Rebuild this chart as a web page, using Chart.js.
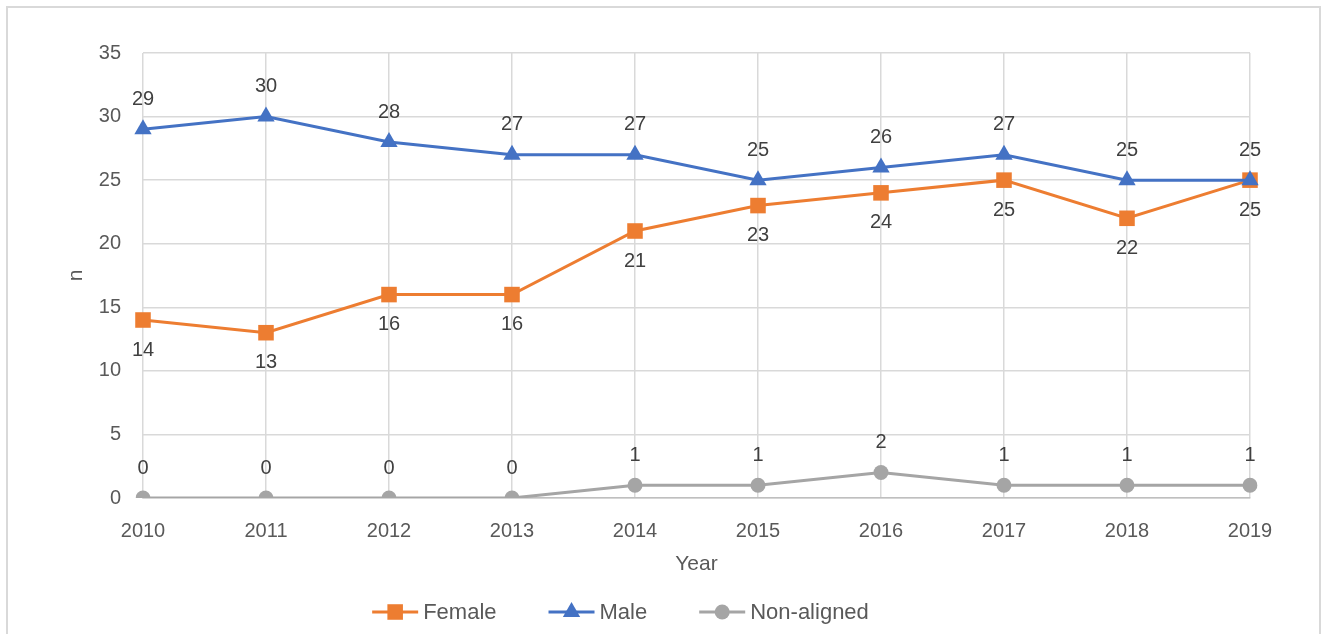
<!DOCTYPE html>
<html>
<head>
<meta charset="utf-8">
<script src="https://cdn.jsdelivr.net/npm/chart.js@4"></script>
<style>
    html, body { margin: 0; padding: 0; background: #fff; }
    #wrap { position: relative; width: 1325px; height: 634px; overflow: hidden; }
    #frame { position: absolute; left: 6px; top: 6px; width: 1315px; height: 700px; border: 2px solid #d9d9d9; box-sizing: border-box; pointer-events: none; }
    canvas { position: absolute; left: 0; top: 0; }
</style>
</head>
<body>
<div id="wrap">
    <canvas id="chart" width="1325" height="634"></canvas>
    <div id="frame"></div>
</div>
<script>
const years = ['2010', '2011', '2012', '2013', '2014', '2015', '2016', '2017', '2018', '2019'];
const female = [14, 13, 16, 16, 21, 23, 24, 25, 22, 25];
const male = [29, 30, 28, 27, 27, 25, 26, 27, 25, 25];
const nonAligned = [0, 0, 0, 0, 1, 1, 2, 1, 1, 1];
const yMin = 0;
const yMax = 35;
const yStep = 5;

const FONT = '"Liberation Sans", Arial, sans-serif';

// value labels above / below each point
const valueLabels = {
    id: 'valueLabels',
    afterDatasetsDraw(chart) {
        const ctx = chart.ctx;
        ctx.save();
        ctx.font = '20px ' + FONT;
        ctx.fillStyle = '#404040';
        ctx.textAlign = 'center';
        chart.data.datasets.forEach((ds, i) => {
            const meta = chart.getDatasetMeta(i);
            meta.data.forEach((pt, j) => {
                if (ds.labelPos === 'below') {
                    ctx.textBaseline = 'top';
                    ctx.fillText(ds.data[j], pt.x, pt.y + 20);
                } else {
                    ctx.textBaseline = 'bottom';
                    ctx.fillText(ds.data[j], pt.x, pt.y - 20);
                }
            });
        });
        ctx.restore();
    }
};

// excel style legend: line with marker in the middle
const lineLegend = {
    id: 'lineLegend',
    afterDraw(chart) {
        const ctx = chart.ctx;
        const lineLen = 46, textGap = 5, itemGap = 52;
        const y = 612;
        ctx.save();
        ctx.font = '22px ' + FONT;
        const items = chart.data.datasets.map(ds => ({ ds, w: ctx.measureText(ds.label).width }));
        let total = 0;
        items.forEach((it, i) => { total += lineLen + textGap + it.w + (i ? itemGap : 0); });
        let x = chart.width / 2 - 42 - total / 2;
        items.forEach(it => {
            const ds = it.ds;
            ctx.strokeStyle = ds.borderColor;
            ctx.lineWidth = 3;
            ctx.beginPath();
            ctx.moveTo(x, y);
            ctx.lineTo(x + lineLen, y);
            ctx.stroke();
            ctx.fillStyle = ds.backgroundColor;
            Chart.helpers.drawPoint(ctx, { pointStyle: ds.pointStyle, radius: ds.pointRadius, rotation: 0, borderWidth: 0 }, x + lineLen / 2, y);
            ctx.fillStyle = '#595959';
            ctx.textAlign = 'left';
            ctx.textBaseline = 'middle';
            ctx.fillText(ds.label, x + lineLen + textGap, y + 1);
            x += lineLen + textGap + it.w + itemGap;
        });
        ctx.restore();
    }
};

new Chart(document.getElementById('chart'), {
    type: 'line',
    data: {
        labels: years,
        datasets: [
            {
                label: 'Female', data: female, order: 2, labelPos: 'below',
                borderColor: '#ED7D31', backgroundColor: '#ED7D31', borderWidth: 3,
                pointStyle: 'rect', pointRadius: 11, pointBorderWidth: 0
            },
            {
                label: 'Male', data: male, order: 1, labelPos: 'above',
                borderColor: '#4472C4', backgroundColor: '#4472C4', borderWidth: 3,
                pointStyle: 'triangle', pointRadius: 10, pointBorderWidth: 0
            },
            {
                label: 'Non-aligned', data: nonAligned, order: 0, labelPos: 'above',
                borderColor: '#A5A5A5', backgroundColor: '#A5A5A5', borderWidth: 3,
                pointStyle: 'circle', pointRadius: 7.5, pointBorderWidth: 0
            }
        ]
    },
    options: {
        responsive: false,
        animation: false,
        layout: { padding: { left: 62, right: 75, top: 53, bottom: 56 } },
        plugins: {
            legend: { display: false },
            tooltip: { enabled: false }
        },
        scales: {
            x: {
                offset: false,
                grid: { color: '#d9d9d9', lineWidth: 1.5, drawTicks: false },
                border: { color: '#bfbfbf', width: 1.5 },
                ticks: { color: '#595959', font: { family: FONT, size: 20 }, padding: 21, maxRotation: 0 },
                title: { display: true, text: 'Year', color: '#595959', font: { family: FONT, size: 21 }, padding: { top: 4, bottom: 1 } },
                afterFit(scale) { scale.height = 80; }
            },
            y: {
                min: yMin, max: yMax,
                grid: { color: '#d9d9d9', lineWidth: 1.5, drawTicks: false },
                border: { display: false },
                ticks: { stepSize: yStep, color: '#595959', font: { family: FONT, size: 20 }, padding: 22 },
                title: { display: true, text: 'n', color: '#595959', font: { family: FONT, size: 21 }, padding: { top: 2, bottom: 4 } },
                afterFit(scale) { scale.width = 81; }
            }
        }
    },
    plugins: [valueLabels, lineLegend]
});
</script>
</body>
</html>
